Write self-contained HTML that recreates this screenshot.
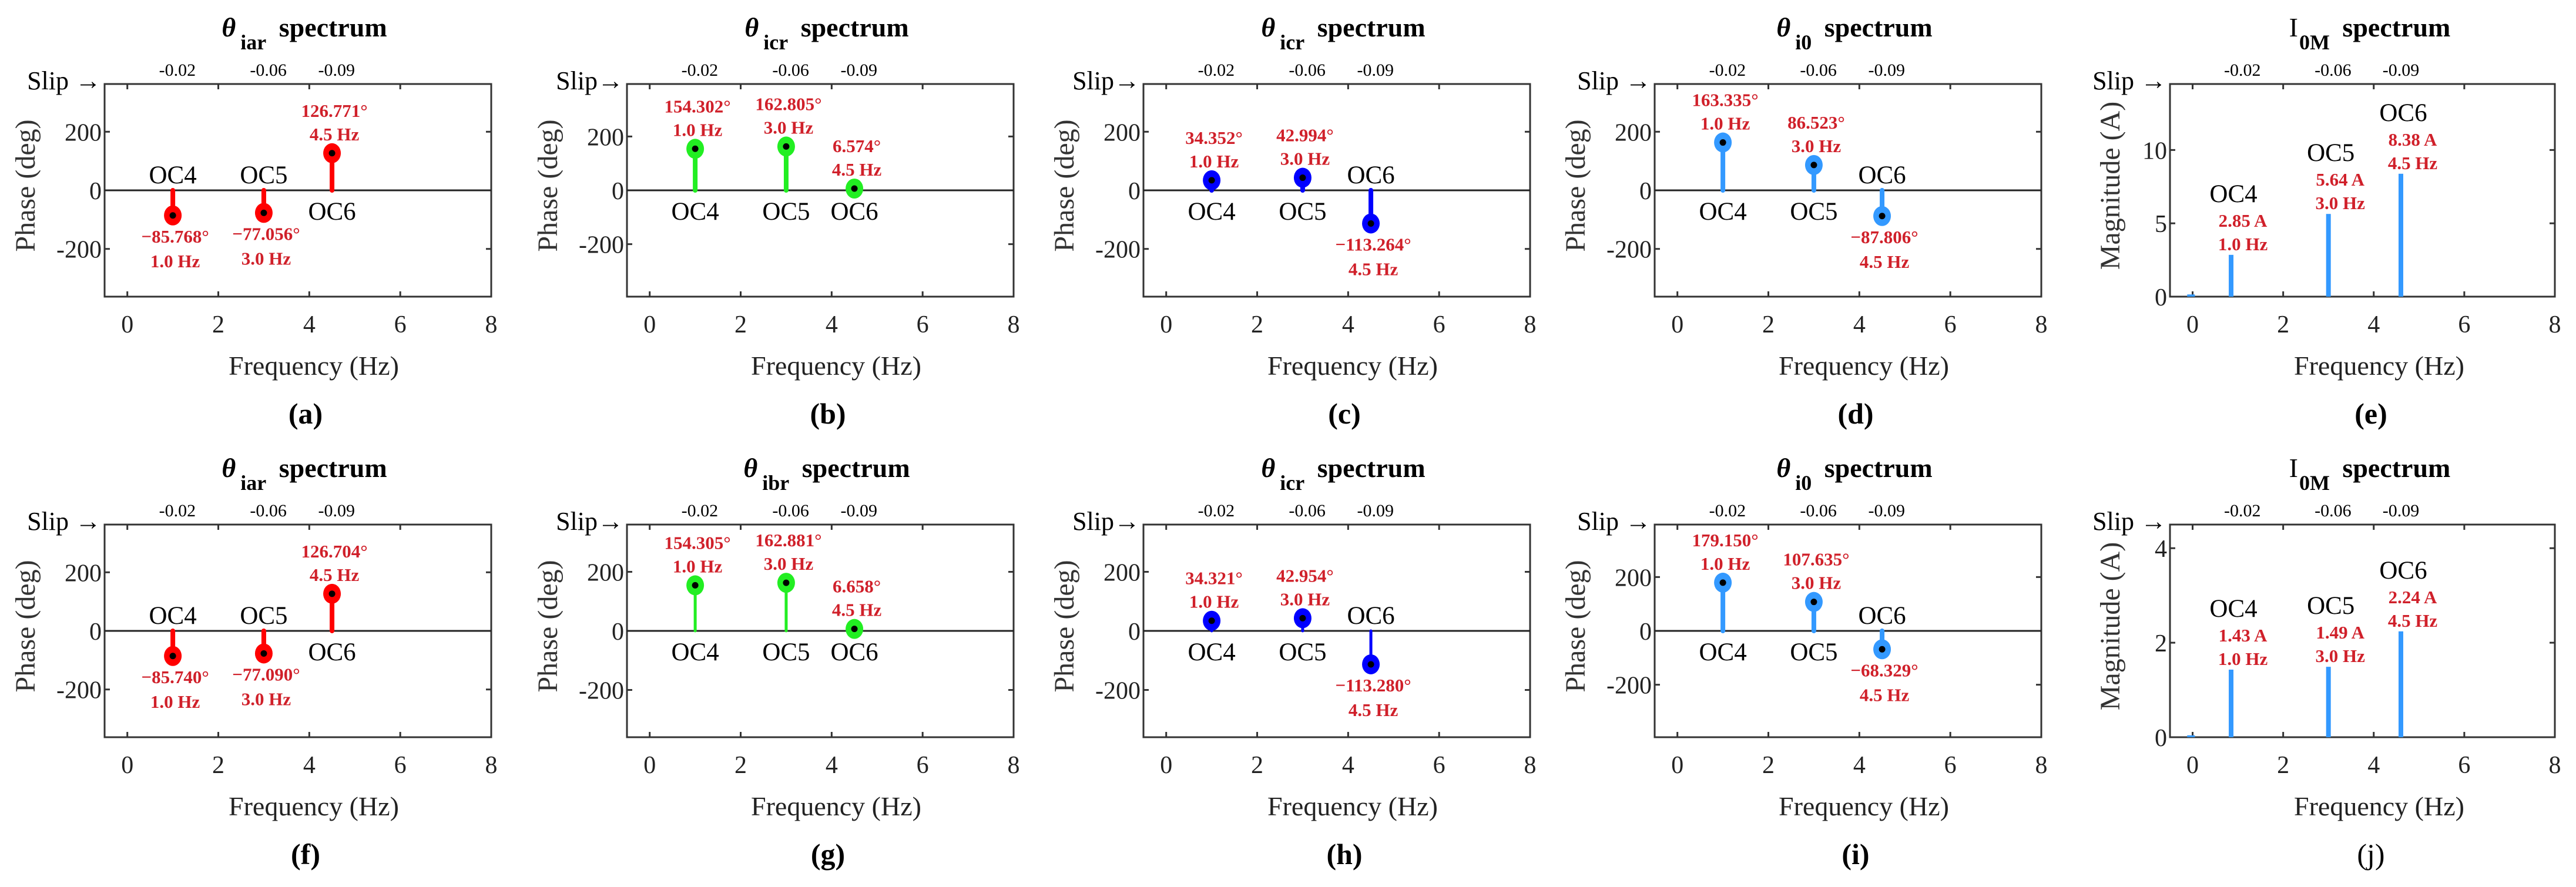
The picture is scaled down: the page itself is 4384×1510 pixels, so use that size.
<!DOCTYPE html>
<html><head><meta charset="utf-8"><style>
html,body{margin:0;padding:0;background:#fff;}
svg{display:block;font-family:"Liberation Serif",serif;}
</style></head><body>
<svg id="fig" width="4384" height="1510" viewBox="0 0 4384 1510" xmlns="http://www.w3.org/2000/svg"></svg>
<script>
// ---- data ----
const phaseFreqs = [1.0, 3.0, 4.5];
const magFreqs = [0.85, 3.0, 4.6];
const magFreqLabels = ['1.0 Hz', '3.0 Hz', '4.5 Hz'];
const ocNames = ['OC4', 'OC5', 'OC6'];
const slipLabels = ['-0.02', '-0.06', '-0.09'];
const slipFreqs = [1.1, 3.1, 4.6];
const xTicks = [0, 2, 4, 6, 8];
const phaseTicks = [-200, 0, 200];
const magTicksE = [0, 5, 10];
const magTicksJ = [0, 2, 4];
const valsA = [-85.768, -77.056, 126.771];
const valsB = [154.302, 162.805, 6.574];
const valsC = [34.352, 42.994, -113.264];
const valsD = [163.335, 86.523, -87.806];
const valsE = [2.85, 5.64, 8.38];
const valsF = [-85.740, -77.090, 126.704];
const valsG = [154.305, 162.881, 6.658];
const valsH = [34.321, 42.954, -113.280];
const valsI = [179.150, 107.635, -68.329];
const valsJ = [1.43, 1.49, 2.24];
const dcE = 0.15, dcJ = 0.04;

const NS = 'http://www.w3.org/2000/svg';
const svg = document.getElementById('fig');
function mk(tag, attrs, parent, name) {
  const e = document.createElementNS(NS, tag);
  for (const k in attrs) e.setAttribute(k, attrs[k]);
  
  
  (parent || svg).appendChild(e);
  return e;
}
function txt(x, y, s, size, opts, parent, name) {
  const a = Object.assign({x: x, y: y, 'font-size': size, 'text-anchor': 'middle', fill: '#000'}, opts || {});
  const t = mk('text', a, parent, name);
  t.textContent = s;
  return t;
}

const H = 362;
const panels = [
  {id:'a', L:178, T:143, W:658, type:'phase', vals:valsA, ymax:363, color:'#ff0000', sym:'θ', sub:'iar', slip:'Slip →', sw:8},
  {id:'b', L:1067, T:143, W:658, type:'phase', vals:valsB, ymax:395, color:'#22ee22', sym:'θ', sub:'icr', slip:'Slip→', sw:8},
  {id:'c', L:1946, T:143, W:658, type:'phase', vals:valsC, ymax:363, color:'#0000ff', sym:'θ', sub:'icr', slip:'Slip→', sw:8},
  {id:'d', L:2816, T:143, W:658, type:'phase', vals:valsD, ymax:363, color:'#3399ff', sym:'θ', sub:'i0', slip:'Slip →', sw:8},
  {id:'e', L:3693, T:143, W:655, type:'mag', vals:valsE, ymax:14.5, ticks:magTicksE, dc:dcE, color:'#3399ff', sym:'I', sub:'0M', slip:'Slip →'},
  {id:'f', L:178, T:893, W:658, type:'phase', vals:valsF, ymax:363, color:'#ff0000', sym:'θ', sub:'iar', slip:'Slip  →', sw:8},
  {id:'g', L:1067, T:893, W:658, type:'phase', vals:valsG, ymax:360, color:'#22ee22', sym:'θ', sub:'ibr', slip:'Slip→', sw:5},
  {id:'h', L:1946, T:893, W:658, type:'phase', vals:valsH, ymax:360, color:'#0000ff', sym:'θ', sub:'icr', slip:'Slip→', sw:5},
  {id:'i', L:2816, T:893, W:658, type:'phase', vals:valsI, ymax:395, color:'#3399ff', sym:'θ', sub:'i0', slip:'Slip →', sw:8},
  {id:'j', L:3693, T:893, W:655, type:'mag', vals:valsJ, ymax:4.5, ticks:magTicksJ, dc:dcJ, color:'#3399ff', sym:'I', sub:'0M', slip:'Slip →'}
];
const RED = '#d0202a';

panels.forEach(p => {
  const g = mk('g', {}, svg, 'panel-' + p.id);
  const L = p.L, T = p.T, W = p.W;
  const ymin = p.type === 'phase' ? -p.ymax : 0;
  const xs = v => L + (v + 0.5) / 8.5 * W;
  const ys = v => T + (p.ymax - v) / (p.ymax - ymin) * H;

  // title
  const tt = mk('text', {x: L + 340, y: T - 81, 'font-size': 46, 'text-anchor': 'middle', 'font-weight': 'bold'}, g, 'panel-title');
  const s1 = document.createElementNS(NS, 'tspan');
  s1.textContent = p.sym;
  if (p.sym === 'θ') s1.setAttribute('font-style', 'italic'); else s1.setAttribute('font-weight', 'normal');
  tt.appendChild(s1);
  const s2 = document.createElementNS(NS, 'tspan');
  s2.textContent = p.sub; s2.setAttribute('font-size', '36'); s2.setAttribute('dy', '22'); s2.setAttribute('dx', p.sym === 'θ' ? '8' : '2');
  tt.appendChild(s2);
  const s3 = document.createElementNS(NS, 'tspan');
  s3.textContent = ' spectrum'; s3.setAttribute('dy', '-22'); s3.setAttribute('dx', '10');
  tt.appendChild(s3);

  // slip
  txt(L - 6, T + 9, p.slip, 44, {'text-anchor': 'end'}, g, 'slip-label');
  slipLabels.forEach((s, i) => txt(xs(slipFreqs[i]), T - 14, s, 30, {}, g, 'slip-value'));

  // axes box
  mk('rect', {x: L, y: T, width: W, height: H, fill: 'none', stroke: '#333', 'stroke-width': 3}, g, 'axes-box');
  xTicks.forEach(v => {
    const x = xs(v);
    if (v < 8) {
      mk('line', {x1: x, y1: T + H, x2: x, y2: T + H - 9, stroke: '#333', 'stroke-width': 3}, g, 'x-tick');
      mk('line', {x1: x, y1: T, x2: x, y2: T + 9, stroke: '#333', 'stroke-width': 3}, g, 'x-tick-top');
    }
    txt(x, T + H + 61, String(v), 42, {fill: '#222'}, g, 'x-tick-label');
  });
  const yt = p.type === 'phase' ? phaseTicks : p.ticks;
  yt.forEach(v => {
    const y = ys(v);
    mk('line', {x1: L, y1: y, x2: L + 9, y2: y, stroke: '#333', 'stroke-width': 3}, g, 'y-tick');
    mk('line', {x1: L + W, y1: y, x2: L + W - 9, y2: y, stroke: '#333', 'stroke-width': 3}, g, 'y-tick-right');
    txt(L - 5, y + 15, String(v), 42, {'text-anchor': 'end', fill: '#222'}, g, 'y-tick-label');
  });
  txt(L + 356, T + H + 133, 'Frequency (Hz)', 46, {fill: '#222'}, g, 'x-axis-title');
  const yl = p.type === 'phase' ? 'Phase (deg)' : 'Magnitude (A)';
  const ylx = p.type === 'phase' ? L - 130 : L - 97;
  txt(ylx, T + 173, yl, 48, {transform: 'rotate(-90 ' + ylx + ' ' + (T + 173) + ')', fill: '#333', 'dominant-baseline': 'middle'}, g, 'y-axis-title');
  txt(L + 342, T + H + 216, '(' + p.id + ')', 50, {'font-weight': p.id === 'j' ? 'normal' : 'bold'}, g, 'panel-letter');

  if (p.type === 'phase') {
    const y0 = ys(0);
    mk('line', {x1: L, y1: y0, x2: L + W, y2: y0, stroke: '#222', 'stroke-width': 3}, g, 'zero-line');
    p.vals.forEach((v, i) => {
      const x = xs(phaseFreqs[i]), y = ys(v);
      mk('line', {x1: x, y1: y0, x2: x, y2: y, stroke: p.color, 'stroke-width': p.sw, 'stroke-linecap': 'round'}, g, 'stem-' + ocNames[i].toLowerCase());
      mk('ellipse', {cx: x, cy: y, rx: 15, ry: 17, fill: p.color}, g, 'stem-marker');
      mk('circle', {cx: x, cy: y, r: 5.5, fill: '#000'}, g, 'stem-marker-dot');
      const vs = (v < 0 ? '\u2212' + Math.abs(v).toFixed(3) : v.toFixed(3)) + '°';
      const fs = phaseFreqs[i].toFixed(1) + ' Hz';
      if (v >= 0) {
        txt(x + 4, y - 62, vs, 31, {fill: RED, 'font-weight': 'bold'}, g, 'value-label');
        txt(x + 4, y - 22, fs, 31, {fill: RED, 'font-weight': 'bold'}, g, 'freq-label');
        txt(x, y0 + 50, ocNames[i], 43, {}, g, 'oc-label');
      } else {
        txt(x + 4, y + 46, vs, 31, {fill: RED, 'font-weight': 'bold'}, g, 'value-label');
        txt(x + 4, y + 88, fs, 31, {fill: RED, 'font-weight': 'bold'}, g, 'freq-label');
        txt(x, y0 - 12, ocNames[i], 43, {}, g, 'oc-label');
      }
    });
  } else {
    const y0 = ys(0);
    mk('rect', {x: xs(-0.12), y: ys(p.dc), width: xs(0.05) - xs(-0.12), height: y0 - ys(p.dc), fill: p.color}, g, 'dc-bar');
    p.vals.forEach((v, i) => {
      const x = xs(magFreqs[i]), y = ys(v);
      mk('rect', {x: x - 4, y: y, width: 8, height: y0 - y, fill: p.color}, g, 'bar-' + ocNames[i].toLowerCase());
      txt(x + 20, y - 8, magFreqLabels[i], 31, {fill: RED, 'font-weight': 'bold'}, g, 'freq-label');
      txt(x + 20, y - 48, v.toFixed(2) + ' A', 31, {fill: RED, 'font-weight': 'bold'}, g, 'value-label');
      txt(x + 4, y - 90, ocNames[i], 43, {}, g, 'oc-label');
    });
  }
});
</script>
</body></html>
